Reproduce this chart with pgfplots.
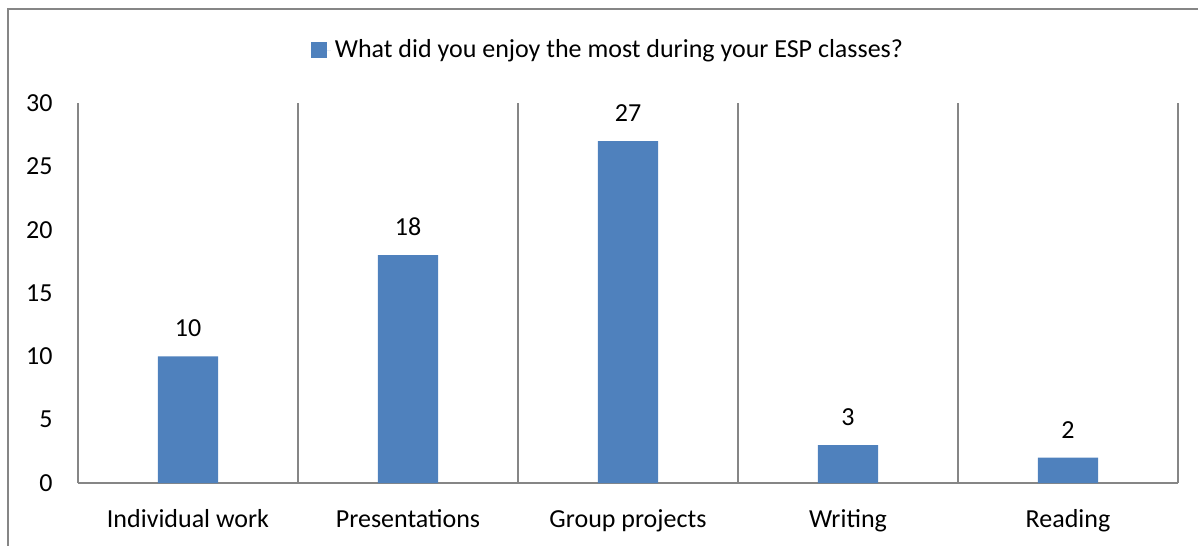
\documentclass[border=0pt]{standalone}
\usepackage{pgfplots}
\pgfplotsset{compat=1.18}
\usepackage{fontspec}
\setmainfont{Carlito}
\definecolor{barblue}{HTML}{4F81BD}
\definecolor{gridgray}{HTML}{868686}
\begin{document}
\fontsize{13bp}{15bp}\selectfont
\begin{tikzpicture}
\useasboundingbox (0,0) rectangle (599bp,273bp);
\draw[gridgray, line width=1bp] (4bp,0) -- (4bp,268.5bp) -- (599bp,268.5bp);
\begin{axis}[
  at={(39bp,31.5bp)}, anchor=south west,
  scale only axis, width=550bp, height=190bp,
  xmin=-0.5, xmax=4.5, ymin=0, ymax=30,
  ytick={0,5,...,30},
  xtick={0,1,2,3,4},
  xticklabels={Individual work, Presentations, Group projects, Writing, Reading},
  minor xtick={0.5,1.5,2.5,3.5,4.5},
  minor x grid style={draw=gridgray, line width=1bp},
  xminorgrids,
  major tick length=0pt, minor tick length=0pt,
  axis x line*=bottom, axis y line*=left,
  axis line style={draw=gridgray, line width=1bp, -},
  /pgf/number format/assume math mode=true,
  tick label style={font=\fontsize{13bp}{15bp}\selectfont},
  y tick label style={anchor=east, inner sep=0pt, xshift=-12.5bp},
  x tick label style={anchor=north, inner sep=0pt, yshift=-13bp},
  ybar, bar width=30bp,
  nodes near coords,
  every node near coord/.append style={anchor=south, inner sep=0pt, yshift=9.5bp, font=\fontsize{13bp}{15bp}\selectfont, black},
  legend style={at={(0.4827,1.139)}, anchor=center, draw=none, fill=none, font=\fontsize{13bp}{15bp}\selectfont, inner sep=0pt},
  legend image code/.code={\fill[barblue] (0bp,-4bp) rectangle (8bp,4bp); \path (0bp,0) -- (10bp,0);},
  clip=false,
]
\addplot[fill=barblue, draw=none, bar shift=0pt] coordinates {(0,10) (1,18) (2,27) (3,3) (4,2)};
\addlegendentry{What did you enjoy the most during your ESP classes?}
\end{axis}
\end{tikzpicture}
\end{document}
